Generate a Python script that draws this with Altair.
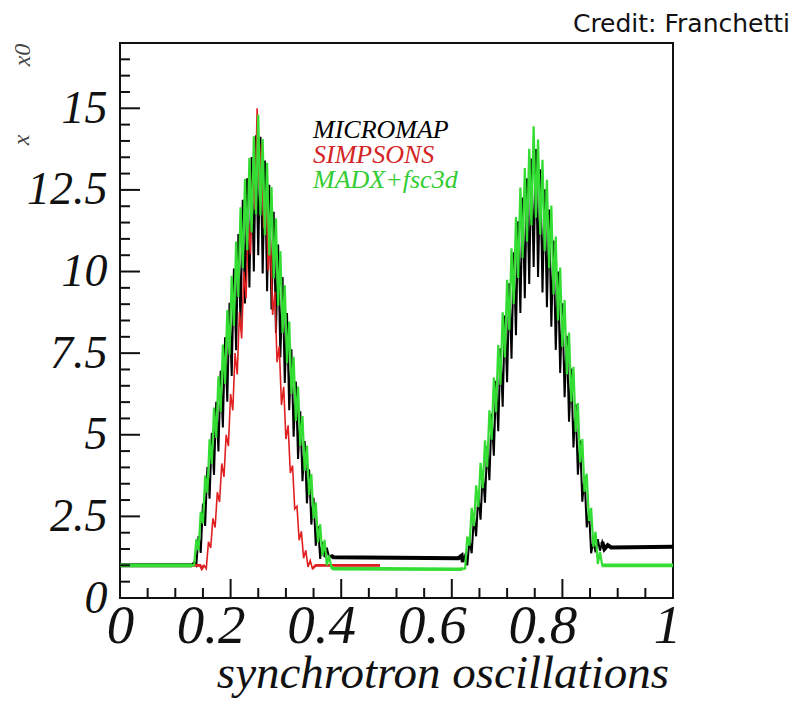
import altair as alt
import pandas as pd

# ---------------- data ----------------
# sampling positions across the two peaks (shared by MICROMAP and MADX+fsc3d)
x_peak1 = [0.130, 0.134, 0.138, 0.142, 0.146, 0.150, 0.154, 0.158, 0.162, 0.166,
           0.170, 0.174, 0.178, 0.182, 0.186, 0.190, 0.194, 0.198, 0.202, 0.206,
           0.210, 0.214, 0.218, 0.222, 0.226, 0.230, 0.234, 0.238, 0.242, 0.246,
           0.250, 0.254, 0.258, 0.262, 0.266, 0.270, 0.274, 0.278, 0.282, 0.286,
           0.290, 0.294, 0.298, 0.302, 0.306, 0.310, 0.314, 0.318, 0.322, 0.326,
           0.330, 0.334, 0.338, 0.342, 0.346, 0.350, 0.354, 0.358, 0.362, 0.366,
           0.370, 0.374, 0.378, 0.382]
x_peak2 = [0.620, 0.624, 0.628, 0.632, 0.636, 0.640, 0.644, 0.648, 0.652, 0.656,
           0.660, 0.664, 0.668, 0.672, 0.676, 0.680, 0.684, 0.688, 0.692, 0.696,
           0.700, 0.704, 0.708, 0.712, 0.716, 0.720, 0.724, 0.728, 0.732, 0.736,
           0.740, 0.744, 0.748, 0.752, 0.756, 0.760, 0.764, 0.768, 0.772, 0.776,
           0.780, 0.784, 0.788, 0.792, 0.796, 0.800, 0.804, 0.808, 0.812, 0.816,
           0.820, 0.824, 0.828, 0.832, 0.836, 0.840, 0.844, 0.848, 0.852, 0.856,
           0.860, 0.864, 0.868, 0.872]
x_red_peak = [0.152, 0.156, 0.160, 0.164, 0.168, 0.172, 0.176, 0.180, 0.184, 0.188,
              0.192, 0.196, 0.200, 0.204, 0.208, 0.212, 0.216, 0.220, 0.224, 0.228,
              0.232, 0.236, 0.240, 0.244, 0.248, 0.252, 0.256, 0.260, 0.264, 0.268,
              0.272, 0.276, 0.280, 0.284, 0.288, 0.292, 0.296, 0.300, 0.304, 0.308,
              0.312, 0.316, 0.320, 0.324, 0.328, 0.332, 0.336, 0.340, 0.344, 0.348]

# MADX+fsc3d (green)
green_pk1 = [1.00, 1.00, 1.80, 1.45, 2.64, 2.28, 3.75, 3.22, 4.86, 4.10,
             5.83, 4.90, 6.79, 5.70, 7.76, 6.56, 8.82, 7.45, 9.87, 8.33,
             10.92, 9.22, 11.97, 10.10, 12.83, 10.65, 13.48, 11.20, 14.14, 11.75,
             14.80, 11.72, 14.06, 11.11, 13.33, 10.49, 12.59, 9.79, 11.63, 8.95,
             10.63, 8.11, 9.58, 7.19, 8.47, 6.25, 7.39, 5.42, 6.48, 4.66,
             5.57, 3.89, 4.67, 3.16, 3.80, 2.43, 2.93, 1.70, 2.26, 1.30,
             1.78, 1.00, 1.30, 0.95]
green_pk2 = [0.90, 0.90, 1.88, 1.60, 2.76, 2.20, 3.45, 2.78, 4.14, 3.36,
             4.83, 4.01, 5.75, 4.85, 6.75, 5.69, 7.75, 6.53, 8.75, 7.37,
             9.75, 8.20, 10.71, 9.00, 11.67, 9.80, 12.57, 10.41, 13.17, 10.91,
             13.76, 11.41, 14.45, 11.65, 14.04, 11.13, 13.42, 10.62, 12.81, 10.10,
             12.02, 9.30, 11.07, 8.50, 10.12, 7.69, 9.13, 6.85, 8.13, 6.01,
             7.08, 5.09, 5.97, 4.15, 4.87, 3.25, 3.81, 2.36, 2.76, 1.57,
             2.03, 1.04, 1.41, 1.00]
x_green = [0.000, 0.126] + x_peak1 + [0.386, 0.616] + x_peak2 + [0.876, 1.000]
y_green = [1.00, 1.00] + green_pk1 + [0.90, 0.88] + green_pk2 + [1.00, 1.00]

# MICROMAP (black)
black_pk1 = [1.00, 1.10, 1.00, 1.90, 1.38, 2.89, 2.21, 4.01, 3.04, 5.06,
             3.77, 6.01, 4.49, 6.96, 5.22, 7.99, 6.01, 9.04, 6.80, 10.09,
             7.59, 11.15, 8.38, 12.20, 9.02, 12.86, 9.51, 13.51, 10.00, 14.17,
             10.50, 14.13, 9.94, 13.40, 9.40, 12.66, 8.84, 11.83, 8.12, 10.83,
             7.37, 9.83, 6.59, 8.73, 5.75, 7.62, 4.94, 6.63, 4.26, 5.72,
             3.58, 4.81, 2.90, 3.94, 2.25, 3.07, 1.60, 2.20, 1.20, 1.72,
             1.25, 1.54, 1.25, 1.30]
black_pk2 = [1.10, 1.30, 1.00, 1.78, 1.37, 2.50, 1.89, 3.19, 2.40, 3.88,
             2.92, 4.65, 3.61, 5.65, 4.36, 6.65, 5.11, 7.65, 5.86, 8.65,
             6.61, 9.64, 7.33, 10.59, 8.05, 11.54, 8.73, 12.27, 9.18, 12.86,
             9.62, 13.46, 10.14, 13.75, 9.83, 13.13, 9.36, 12.52, 8.91, 11.90,
             8.31, 10.95, 7.60, 10.00, 6.89, 9.03, 6.15, 8.03, 5.40, 7.03,
             4.61, 5.93, 3.78, 4.82, 2.95, 3.74, 2.16, 2.69, 1.37, 1.74,
             1.40, 1.80, 1.45, 1.72]
x_black = [0.000, 0.126] + x_peak1 + [0.386, 0.612, 0.618] + x_peak2 + [0.876, 0.882, 0.888, 1.000]
y_black = [1.00, 1.00] + black_pk1 + [1.25, 1.22, 1.30] + black_pk2 + [1.50, 1.62, 1.55, 1.57]

# SIMPSONS (red)
red_pk = [1.00, 0.90, 1.72, 1.53, 2.44, 2.16, 3.24, 2.94, 4.12, 3.71,
          5.00, 4.65, 6.25, 5.75, 7.50, 6.85, 8.75, 7.95, 10.00, 9.18,
          11.54, 10.53, 13.08, 11.89, 15.00, 12.58, 13.93, 11.32, 12.50, 10.02,
          10.96, 8.67, 9.38, 7.22, 7.71, 5.91, 6.47, 4.87, 5.29, 3.83,
          4.06, 2.73, 2.81, 1.77, 2.04, 1.22, 1.46, 0.95, 1.15, 0.90]
x_red = [0.125, 0.145, 0.148] + x_red_peak + [0.354, 0.470]
y_red = [1.00, 1.00, 0.90] + red_pk + [1.00, 1.00]

series_names = ["MICROMAP", "SIMPSONS", "MADX+fsc3d"]
series_colors = ["#000000", "#e02020", "#33dd33"]
legend_colors = ["#000000", "#d42424", "#33cc33"]

x_major = [0.2, 0.4, 0.6, 0.8]
x_minor = [0.05, 0.1, 0.15, 0.25, 0.3, 0.35, 0.45, 0.5, 0.55,
           0.65, 0.7, 0.75, 0.85, 0.9, 0.95]
y_major = [2.5, 5, 7.5, 10, 12.5, 15]
y_minor = [0.5, 1, 1.5, 2, 3, 3.5, 4, 4.5, 5.5, 6, 6.5, 7, 8, 8.5, 9, 9.5,
           10.5, 11, 11.5, 12, 13, 13.5, 14, 14.5, 15.5, 16, 16.5]
x_labels = [0, 0.2, 0.4, 0.6, 0.8, 1]
y_labels = [0, 2.5, 5, 7.5, 10, 12.5, 15]

x_title = "synchrotron oscillations"
credit = "Credit: Franchetti"

# ---------------- chart ----------------
W, H = 553, 555
SERIF = "Liberation Serif"

xscale = alt.Scale(domain=[0, 1], nice=False, zero=False)
yscale = alt.Scale(domain=[0, 17], nice=False, zero=False)

x_enc = alt.X("x:Q", scale=xscale, title=None,
              axis=alt.Axis(values=x_labels, format=".3~g", ticks=False, domain=False,
                            grid=False, labelFont=SERIF, labelFontStyle="italic",
                            labelFontSize=55, labelColor="#111111", labelPadding=1,
                            labelFlush=False, labelOverlap=False,
                            labelOffset={"condition": [
                                {"test": "datum.value > 0.01 && datum.value < 0.99", "value": -20},
                                {"test": "datum.value >= 0.99", "value": -6}], "value": 0}))
y_enc = alt.Y("y:Q", scale=yscale, title=None,
              axis=alt.Axis(values=y_labels, format=".3~g", ticks=False, domain=False,
                            grid=False, labelFont=SERIF, labelFontStyle="italic",
                            labelFontSize=46, labelColor="#111111", labelPadding=13,
                            labelFlush=False, labelOverlap=False))


def series_layers(xs, ys, spans, color, thin, thick):
    df = pd.DataFrame({"x": xs, "y": ys})
    df["i"] = range(len(df))
    # flat stretches (outside the oscillating peaks) are drawn with a thicker pen
    inside = df["x"].apply(lambda v: any(a < v < b for a, b in spans))
    df["seg"] = df["x"].apply(lambda v: sum(1 for a, b in spans if v >= b))
    flat = df[~inside]
    thin_l = alt.Chart(df).mark_line(color=color, strokeWidth=thin).encode(
        x=x_enc, y=y_enc, order="i:Q")
    thick_l = alt.Chart(flat).mark_line(color=color, strokeWidth=thick).encode(
        x=x_enc, y=y_enc, order="i:Q", detail="seg:N")
    return [thin_l, thick_l]


peak_spans = [(0.130, 0.382), (0.620, 0.872)]
black = series_layers(x_black, y_black, peak_spans, series_colors[0], 2.0, 4.0)
red = series_layers(x_red, y_red, [(0.152, 0.348)], series_colors[1], 1.6, 2.6)
green = series_layers(x_green, y_green, peak_spans, series_colors[2], 2.2, 3.6)


def xtick(vals, length):
    return alt.Chart(pd.DataFrame({"x": vals})).mark_rule(
        color="#111111", strokeWidth=2).encode(
        x=alt.X("x:Q", scale=xscale), y=alt.value(H), y2=alt.value(H - length))


def ytick(vals, length):
    return alt.Chart(pd.DataFrame({"y": vals})).mark_rule(
        color="#111111", strokeWidth=2).encode(
        y=alt.Y("y:Q", scale=yscale), x=alt.value(0), x2=alt.value(length))


ticks = [xtick(x_major, 19), xtick(x_minor, 10), ytick(y_major, 20), ytick(y_minor, 10)]


def text_layer(txt, x, y, size, color, font=SERIF, style="italic", align="left",
               angle=0, baseline="alphabetic"):
    return alt.Chart(pd.DataFrame({"t": [txt]})).mark_text(
        font=font, fontStyle=style, fontSize=size, color=color, align=align,
        baseline=baseline, angle=angle).encode(
        text="t:N", x=alt.value(x), y=alt.value(y))


legend = [text_layer(series_names[i], 193, 95 + 25 * i, 26, legend_colors[i])
          for i in range(3)]

title = text_layer(x_title, W - 4, H + 90, 47, "#111111", align="right")
credit_t = text_layer(credit, 670, -11, 25, "#111111", font="DejaVu Sans",
                      style="normal", align="right")
yfrag1 = text_layer("x0", -90, 12, 24, "#444444", align="center", angle=270)
yfrag2 = text_layer("x", -91, 97, 24, "#444444", align="center", angle=270)

chart = alt.layer(*black, *red, *green, *ticks, *legend, title, credit_t,
                  yfrag1, yfrag2).properties(
    width=W, height=H,
    autosize=alt.AutoSizeParams(type="none"),
    padding={"left": 112, "top": 35, "right": 130, "bottom": 100},
    background="white",
).configure_view(stroke="#111111", strokeWidth=2)

chart.save("out.html", embed_options={"renderer": "svg", "actions": False})
